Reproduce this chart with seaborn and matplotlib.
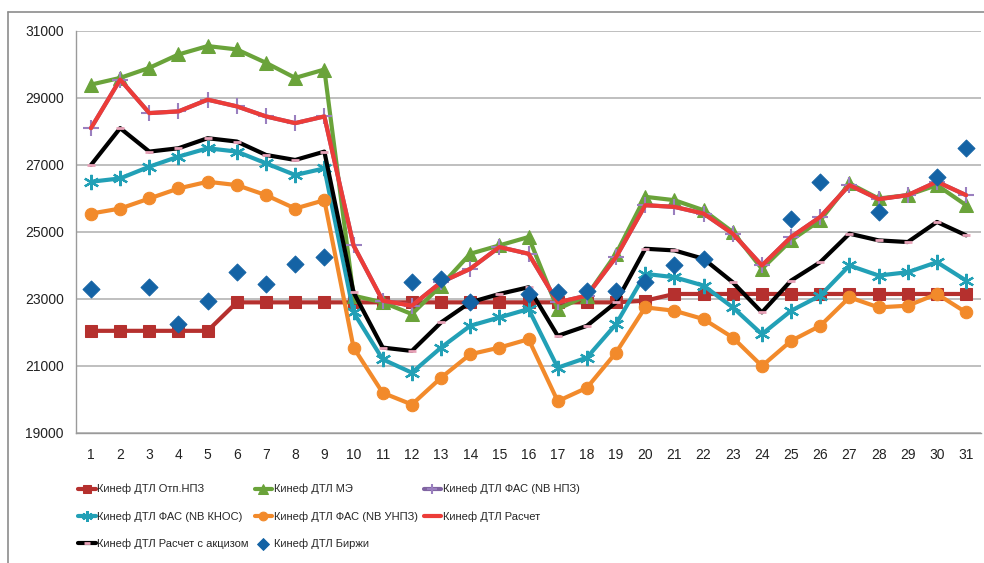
import numpy as np
import pandas as pd
import matplotlib
matplotlib.use("Agg")
import matplotlib.pyplot as plt
from matplotlib.lines import Line2D
import seaborn as sns

days = list(range(1, 32))

otp_npz = [22050, 22050, 22050, 22050, 22050, 22900, 22900, 22900, 22900, 22900,
           22900, 22900, 22900, 22900, 22900, 22900, 22900, 22900, 22900, 22950,
           23150, 23150, 23150, 23150, 23150, 23150, 23150, 23150, 23150, 23150, 23150]
me = [29400, 29600, 29900, 30300, 30550, 30450, 30050, 29600, 29850, 23100,
      22900, 22550, 23400, 24350, 24600, 24850, 22700, 23100, 24350, 26050,
      25950, 25650, 25000, 23900, 24750, 25350, 26450, 26000, 26100, 26400, 25800]
raschet = [28100, 29550, 28550, 28600, 28950, 28750, 28450, 28250, 28450, 24600,
           22950, 22800, 23500, 23900, 24550, 24350, 22900, 23100, 24250, 25800,
           25750, 25550, 24950, 24000, 24850, 25450, 26400, 25980, 26100, 26500, 26100]
fas_npz = list(raschet)
fas_knos = [26500, 26600, 26950, 27250, 27500, 27400, 27050, 26700, 26900, 22600,
            21200, 20800, 21550, 22200, 22450, 22700, 20950, 21250, 22250, 23750,
            23650, 23400, 22750, 21950, 22650, 23100, 24000, 23700, 23800, 24100, 23550]
fas_unpz = [25550, 25700, 26000, 26300, 26500, 26400, 26100, 25700, 25950, 21550,
            20200, 19850, 20650, 21350, 21550, 21800, 19950, 20350, 21400, 22750,
            22650, 22400, 21850, 21000, 21750, 22200, 23050, 22750, 22800, 23150, 22600]
aktsiz = [27000, 28100, 27400, 27500, 27800, 27700, 27300, 27150, 27400, 23200,
          21550, 21450, 22300, 22900, 23150, 23350, 21900, 22200, 22900, 24500,
          24450, 24200, 23500, 22600, 23550, 24100, 24950, 24750, 24700, 25300, 24900]
birzhi = [23300, np.nan, 23350, 22250, 22950, 23800, 23450, 24050, 24250, np.nan,
          np.nan, 23500, 23600, 22900, np.nan, 23150, 23200, 23250, 23250, 23500,
          24000, 24200, np.nan, np.nan, 25400, 26500, np.nan, 25600, np.nan, 26650, 27500]

labels = ["Кинеф ДТЛ Отп.НПЗ", "Кинеф ДТЛ МЭ", "Кинеф ДТЛ ФАС (NB НПЗ)",
          "Кинеф ДТЛ ФАС (NB КНОС)", "Кинеф ДТЛ ФАС (NB УНПЗ)", "Кинеф ДТЛ Расчет",
          "Кинеф ДТЛ Расчет с акцизом", "Кинеф ДТЛ Биржи"]
y_ticks = [19000, 21000, 23000, 25000, 27000, 29000, 31000]

sns.set_theme(style="white")
plt.rcParams['font.family'] = ['Liberation Sans', 'DejaVu Sans']

fig = plt.figure(figsize=(9.84, 5.63), dpi=100)
ax = fig.add_axes([76.4 / 984, 1 - 433 / 563, (980.7 - 76.4) / 984, (433 - 31) / 563])

df = pd.DataFrame({"day": days, "otp": otp_npz, "me": me, "npz": fas_npz,
                   "knos": fas_knos, "unpz": fas_unpz, "ras": raschet,
                   "akc": aktsiz, "bir": birzhi})

lw = 3.0
sns.lineplot(data=df, x="day", y="otp", ax=ax, color="#b5302e", marker="s",
             markersize=9, markeredgecolor="#b5302e", linewidth=lw, label=labels[0], zorder=3)
sns.lineplot(data=df, x="day", y="me", ax=ax, color="#6aa33a", marker="^",
             markersize=10, markeredgecolor="#6aa33a", linewidth=lw, label=labels[1], zorder=4)
sns.lineplot(data=df, x="day", y="npz", ax=ax, color="#8064a2", marker="+",
             markersize=11, markeredgewidth=1.5, markeredgecolor="#9a7fbf",
             linewidth=lw, label=labels[2], zorder=5)
sns.lineplot(data=df, x="day", y="knos", ax=ax, color="#22a0b6", marker=(6, 2, 0),
             markersize=11, markeredgewidth=1.6, markeredgecolor="#22a0b6",
             linewidth=lw, label=labels[3], zorder=6)
sns.lineplot(data=df, x="day", y="unpz", ax=ax, color="#f28a2b", marker="o",
             markersize=9, markeredgecolor="#f28a2b", linewidth=lw, label=labels[4], zorder=7)
sns.lineplot(data=df, x="day", y="ras", ax=ax, color="#ec3c38", linewidth=lw,
             label=labels[5], zorder=8)
sns.lineplot(data=df, x="day", y="akc", ax=ax, color="#000000", marker="_",
             markersize=6, markeredgewidth=2, markeredgecolor="#e8a2b8",
             linewidth=lw, label=labels[6], zorder=9)
sns.scatterplot(data=df, x="day", y="bir", ax=ax, color="#1463a5", marker="D",
                s=75, edgecolor="#1463a5", label=labels[7], zorder=10)

ax.set_xlim(0.5, 31.5)
ax.set_ylim(19000, 31000)
ax.set_yticks(y_ticks)
ax.set_yticklabels([str(v) for v in y_ticks])
ax.set_xticks(days)
ax.set_xticklabels([str(d) for d in days])
ax.set_xticks(np.arange(0.5, 32, 1), minor=True)
ax.set_xlabel("")
ax.set_ylabel("")
ax.grid(axis="y", color="#b4b4b4", linewidth=1.2)
ax.set_axisbelow(True)
for s in ["top", "right"]:
    ax.spines[s].set_visible(False)
for s in ["left", "bottom"]:
    ax.spines[s].set_color("#9a9a9a")
    ax.spines[s].set_linewidth(1.0)
ax.tick_params(axis="x", which="major", length=0, labelsize=10, pad=11, colors="#222222")
ax.tick_params(axis="x", which="minor", length=5, color="#9a9a9a", direction="out")
ax.tick_params(axis="y", which="major", length=5, color="#9a9a9a", direction="out",
               labelsize=10, pad=4, colors="#222222")
ax.patch.set_alpha(0)

handles, labs = ax.get_legend_handles_labels()
ax.get_legend().remove()
order = [0, 3, 6, 1, 4, 7, 2, 5]
fig.legend([handles[i] for i in order], [labs[i] for i in order], ncol=3,
           loc="upper left", bbox_to_anchor=(78 / 984, 1 - 484 / 563),
           frameon=False, fontsize=8, handlelength=1.6, handletextpad=0.15,
           labelspacing=1.5, columnspacing=0.5, borderpad=0, borderaxespad=0,
           markerscale=0.7)

fig.add_artist(Line2D([8 / 984, 8 / 984], [0, 1 - 12 / 563], transform=fig.transFigure,
                      color="#8c8c8c", linewidth=1.2))
fig.add_artist(Line2D([8 / 984, 1], [1 - 12 / 563, 1 - 12 / 563], transform=fig.transFigure,
                      color="#8c8c8c", linewidth=1.2))

fig.savefig("out.png", dpi=100)
